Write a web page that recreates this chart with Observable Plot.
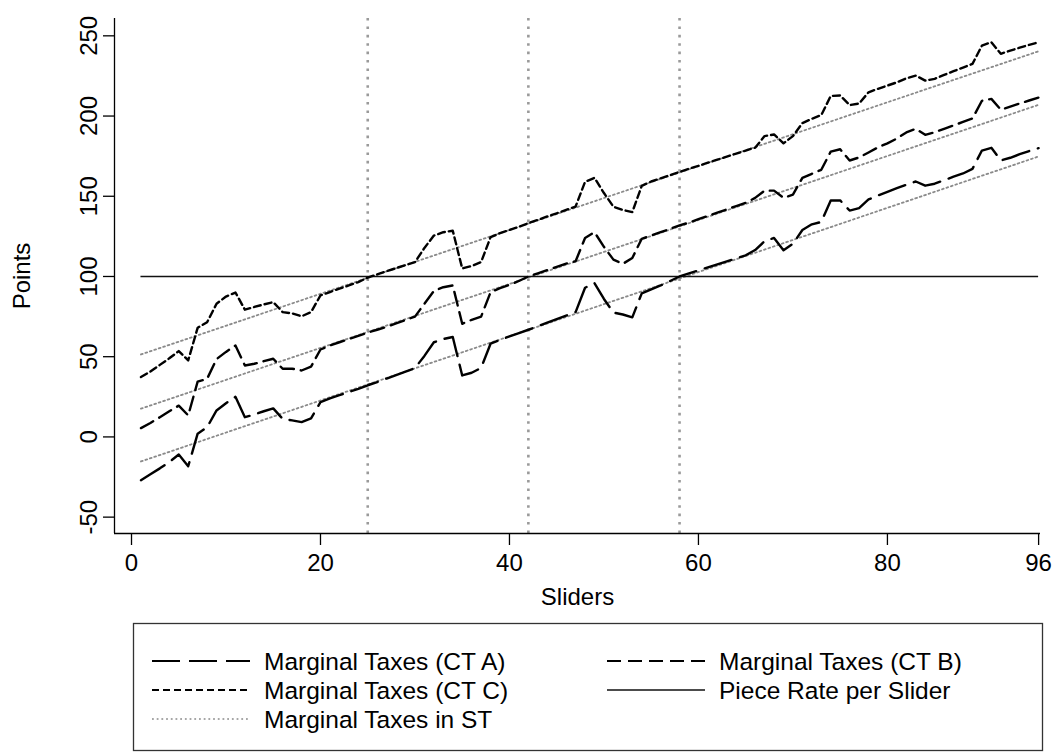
<!DOCTYPE html>
<html><head><meta charset="utf-8">
<script src="https://cdn.jsdelivr.net/npm/d3@7"></script>
<script src="https://cdn.jsdelivr.net/npm/@observablehq/plot@0.6"></script>
<style>
body{margin:0;background:#fff;font-family:"Liberation Sans",Arial,Helvetica,sans-serif;}
#chart svg{display:block;}
</style></head><body><div id="chart"></div><script>
// ---- data ----
const sliders = d3.range(1, 97);
const ctA = [-27,-23.3,-19.6,-15.6,-11,-18.3,2,6,16.5,21,25,12.3,14,16,17.8,11.2,10.3,9.2,11.5,21.7,
  24,26,28,30,32.2,34.2,36.4,38.5,40.7,42.9,50.5,59,61,62.3,38.3,40,43,58.1,60.5,62.6,
  64.7,66.8,69,71.2,73.4,75.6,77.8,93,95.8,86,77.5,76.3,74.5,89.5,92,94.4,97.2,100,101.9,103.8,
  105.7,107.6,109.4,111.3,113.2,116.5,122,124,116.3,120.4,129,132.5,134,147.4,147.4,141.1,142.6,148,150.5,152.8,
  155,157.2,159.2,156.6,157.8,160,162.2,164.2,167.1,178.5,180.2,172.3,174,176.2,178.2,180];
const ctB = [5.5,8.7,12.3,16,19.5,13.4,34.5,36.2,48.5,53,57,44.5,45.6,47.2,48.7,42.5,42.5,41.4,43.8,54.5,
  57,59,61,63,65,66.8,68.6,70.7,72.9,75,83,91,93.3,94.4,70.5,73,75,90.2,92.7,94.8,
  97.2,100,102,104,106,108,109.5,124,127.6,118.5,110.5,107.9,111.5,123.5,125.5,127.6,129.7,131.8,133.6,135.7,
  137.7,139.8,141.8,143.9,145.9,149,153.5,153.5,149,151,161.5,164,166.5,177.8,179.3,172.3,174.2,177.3,180.5,183,
  186,189.8,192,188.3,189.9,192,194.2,196.3,198.5,209.5,210.7,204,205.9,207.8,209.7,211.5];
const ctC = [37.3,40.8,44.9,49,53.5,47.7,68,71.5,83,87.5,90,79.3,81,82.6,84,77.8,77,75.2,77.8,88.2,
  90.3,92.4,94.4,96.5,99.3,101.3,103.3,105.2,107.1,108.9,117.8,125.5,127.6,128.5,105,106.5,109,124.5,127,129,
  131,133.2,135.3,137.4,139.4,141.5,143.6,159,161.5,152,143.5,141.5,140.1,156.5,159.2,161.2,163.2,165.2,167.2,169,
  170.9,172.8,174.7,176.6,178.5,180.3,187.5,188.5,183,187.5,195.6,198.3,200.6,212.5,212.8,206.8,207.8,214.8,217,219,
  221,223.5,225.2,222.1,223.2,225.6,228,230.2,232.5,243.9,246,238.8,240.8,242.6,244.4,246];
const stX = [1, 96];
const stA = [-15.3, 174.8];
const stB = [17.6, 207];
const stC = [51.4, 240.4];
const pieceRate = 100;
const pieceRange = [1, 96];
const cutoffs = [25, 42, 58];
const xTicks = [0, 20, 40, 60, 80, 96];
const yTicks = [-50, 0, 50, 100, 150, 200, 250];
const legendLabels = ["Marginal Taxes (CT A)", "Marginal Taxes (CT B)", "Marginal Taxes (CT C)", "Piece Rate per Slider", "Marginal Taxes in ST"];

// ---- styles ----
const FONT = '"Liberation Sans", Arial, Helvetica, sans-serif';
const styles = {
  A: {stroke: "#000", strokeWidth: 2.4, strokeDasharray: "28,9"},
  B: {stroke: "#000", strokeWidth: 2.4, strokeDasharray: "14,7"},
  C: {stroke: "#000", strokeWidth: 2.4, strokeDasharray: "7,4"},
  P: {stroke: "#111", strokeWidth: 1.6, strokeDasharray: null},
  S: {stroke: "#8a8a8a", strokeWidth: 1.8, strokeDasharray: "1.8,2.9"}
};

const rows = sliders.map((s, i) => ({s, a: ctA[i], b: ctB[i], c: ctC[i]}));
const st = stX.map((x, i) => ({x, a: stA[i], b: stB[i], c: stC[i]}));
const xDomain = [-1.8, 96.2];
const yDomain = [-60.2, 260.8];
const fmt = d => String(d);

const chart = Plot.plot({
  width: 1056, height: 615,
  marginLeft: 114, marginRight: 16, marginTop: 18, marginBottom: 82,
  x: {domain: xDomain},
  y: {domain: yDomain},
  style: {fontFamily: FONT, fontSize: "24px", color: "#000", background: "#fff", overflow: "visible"},
  marks: [
    Plot.ruleX(cutoffs, {stroke: "#9a9a9a", strokeWidth: 2.6, strokeDasharray: "2.6,5.8"}),
    Plot.line(st, {x: "x", y: "a", ...styles.S}),
    Plot.line(st, {x: "x", y: "b", ...styles.S}),
    Plot.line(st, {x: "x", y: "c", ...styles.S}),
    Plot.ruleY([pieceRate], {x1: pieceRange[0], x2: pieceRange[1], ...styles.P}),
    Plot.line(rows, {x: "s", y: "a", ...styles.A}),
    Plot.line(rows, {x: "s", y: "b", ...styles.B}),
    Plot.line(rows, {x: "s", y: "c", ...styles.C}),
    Plot.ruleX([xDomain[0]], {stroke: "#000", strokeWidth: 1.3}),
    Plot.ruleY([yDomain[0]], {stroke: "#000", strokeWidth: 1.3}),
    Plot.axisX({ticks: xTicks, tickFormat: fmt, tickSize: 12, tickPadding: 8, label: null, fontSize: 24, strokeWidth: 1.3}),
    Plot.axisY({ticks: yTicks, tickFormat: fmt, tickSize: 11, tickRotate: -90, tickPadding: 7, label: null, fontSize: 24, strokeWidth: 1.3}),
    Plot.text(["Sliders"], {frameAnchor: "bottom", dy: 64, lineAnchor: "middle", fontSize: 24}),
    Plot.text(["Points"], {frameAnchor: "left", dx: -92, rotate: -90, textAnchor: "middle", lineAnchor: "middle", fontSize: 24})
  ]
});
document.getElementById("chart").appendChild(chart);

// ---- legend ----
const leg = d3.create("svg").attr("width", 1056).attr("height", 139)
  .style("font-family", FONT).style("font-size", "24.5px");
leg.append("rect").attr("x", 133.5).attr("y", 8.5).attr("width", 909).attr("height", 127)
  .attr("fill", "#fff").attr("stroke", "#333").attr("stroke-width", 1.3);
const keys = ["A", "B", "C", "P", "S"];
const colX = [152, 607], rowY = [46, 75, 104];
keys.forEach((k, i) => {
  const cx = colX[i % 2], cy = rowY[Math.floor(i / 2)];
  const s = styles[k];
  leg.append("line").attr("x1", cx).attr("x2", cx + 98).attr("y1", cy).attr("y2", cy)
    .attr("stroke", s.stroke).attr("stroke-width", k === "P" ? 1.4 : (k === "S" ? 1.4 : 2.2))
    .attr("stroke-dasharray", s.strokeDasharray);
  leg.append("text").attr("x", cx + 112).attr("y", cy).attr("dy", "0.35em").text(legendLabels[i]);
});
document.getElementById("chart").appendChild(leg.node());
</script></body></html>
